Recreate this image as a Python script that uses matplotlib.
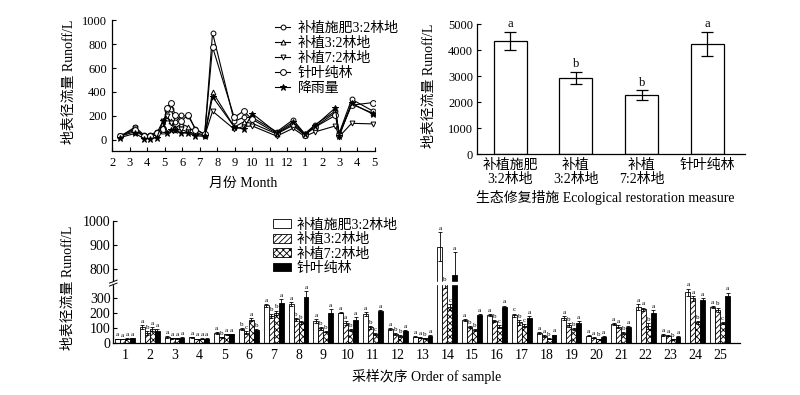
import numpy as np
import matplotlib
matplotlib.use('Agg')
import matplotlib.pyplot as plt

plt.rcParams['font.family'] = ['Liberation Serif', 'Noto Sans CJK SC']
plt.rcParams['hatch.linewidth'] = 0.6
plt.rcParams['axes.linewidth'] = 0.9

# ---- data ----
series_names = ['补植施肥3:2林地', '补植3:2林地', '补植7:2林地', '针叶纯林']
samples = list(range(1, 26))

# runoff per sample (L)
fert32 = [30, 108, 43, 40, 70, 98, 252, 260, 150, 205, 196, 94, 45, 893, 156, 188, 188, 68, 168, 52, 128, 241, 57, 339, 241]
plant32 = [30, 70, 35, 30, 40, 72, 183, 160, 100, 134, 108, 63, 39, 400, 108, 150, 139, 50, 123, 39, 112, 228, 50, 299, 223]
plant72 = [32, 96, 35, 33, 60, 158, 203, 140, 79, 88, 63, 50, 35, 240, 90, 112, 117, 32, 97, 30, 68, 117, 28, 139, 134]
conifer = [35, 83, 37, 33, 60, 90, 270, 310, 205, 158, 212, 85, 50, 775, 188, 241, 172, 55, 134, 45, 108, 205, 45, 290, 312]

err_fert32 = [3, 15, 4, 3, 4, 6, 10, 14, 12, 5, 14, 6, 4, 60, 6, 4, 10, 6, 15, 4, 5, 18, 5, 25, 8]
err_plant32 = [2, 12, 3, 3, 4, 8, 15, 10, 8, 12, 10, 5, 3, 30, 6, 8, 15, 4, 12, 3, 8, 10, 3, 15, 15]
err_plant72 = [2, 10, 3, 2, 4, 10, 15, 8, 6, 8, 5, 4, 3, 20, 5, 10, 10, 3, 8, 3, 5, 20, 3, 10, 8]
err_conifer = [3, 10, 3, 3, 4, 5, 25, 35, 25, 15, 8, 5, 5, 95, 6, 10, 12, 4, 15, 4, 8, 15, 4, 8, 25]

letters = ['aaaa', 'abaa', 'aaaa', 'aaaa', 'abaa', 'bcab', 'abba', 'abba', 'abba', 'aaba',
           'abca', 'abba', 'aaba', 'abca', 'abba', 'abca', 'cbca', 'aaba', 'abba', 'aaba',
           'aaba', 'aaba', 'aaba', 'aaba', 'abca']

# rainfall (same axis)
rain = [20, 55, 12, 10, 20, 160, 60, 85, 80, 60, 55, 35, 30, 360, 110, 90, 220, 60, 150, 50, 120, 268, 30, 305, 215]

# sampling dates, months after February of the first year
sample_month = [0.45, 1.3, 1.8, 2.15, 2.55, 2.9, 3.1, 3.35, 3.6, 3.95, 4.35, 4.75, 5.28, 5.73,
                6.97, 7.5, 8.0, 9.4, 10.33, 11.0, 11.6, 12.75, 12.97, 13.68, 14.9]
month_labels = ['2', '3', '4', '5', '6', '7', '8', '9', '10', '11', '12', '1', '2', '3', '4', '5']

# totals
measure_labels = ['补植施肥\n3:2林地', '补植\n3:2林地', '补植\n7:2林地', '针叶纯林']
total_runoff = [4360, 2940, 2270, 4250]
total_err = [360, 240, 185, 460]
total_letters = ['a', 'b', 'b', 'a']

fig = plt.figure(figsize=(8, 3.95), dpi=100)

# ---- top left: line chart ----
ax1 = fig.add_axes([0.1404, 0.6177, 0.328, 0.3316])
line_series = [fert32, plant32, plant72, conifer, rain]
line_names = series_names + ['降雨量']
markers = ['o', '^', 'v', 'o', '*']
msizes = [3.5, 3.5, 3.5, 4.2, 4.5]
for vals, name, m, ms in zip(line_series, line_names, markers, msizes):
    face = 'black' if m == '*' else 'white'
    ax1.plot(sample_month, vals, color='black', lw=0.8, marker=m, ms=ms,
             mfc=face, mec='black', mew=0.7, label=name)
ax1.set_xlim(0, 15)
ax1.set_ylim(-92, 1000)
ax1.set_yticks(range(0, 1001, 200))
ax1.set_xticks(range(16))
ax1.set_xticklabels(month_labels)
ax1.tick_params(direction='in', length=3, labelsize=9, pad=4)
ax1.spines['top'].set_visible(False)
ax1.spines['right'].set_visible(False)
ax1.set_ylabel('地表径流量 Runoff/L', fontsize=10)
ax1.yaxis.set_label_coords(-0.14, 0.53)
ax1.set_xlabel('月份 Month', fontsize=10)
ax1.xaxis.set_label_coords(0.5, -0.2)
ax1.legend(loc='upper left', bbox_to_anchor=(0.344, 0.945), bbox_transform=fig.transFigure,
           frameon=False, fontsize=10, borderpad=0, handlelength=1.1, handletextpad=0.5,
           labelspacing=0.14, borderaxespad=0)

# ---- top right: totals ----
ax2 = fig.add_axes([0.5966, 0.6094, 0.3345, 0.3291])
xpos = np.arange(len(total_runoff))
ax2.bar(xpos, total_runoff, width=0.5, color='white', edgecolor='black', lw=0.9,
        yerr=total_err, capsize=4, error_kw=dict(elinewidth=0.9, capthick=0.9))
for x, v, e, t in zip(xpos, total_runoff, total_err, total_letters):
    ax2.annotate(t, (x, v + e), xytext=(0, 1), textcoords='offset points',
                 ha='center', va='bottom', fontsize=9)
ax2.set_xlim(-0.5, 3.57)
ax2.set_ylim(0, 5000)
ax2.set_yticks(range(0, 5001, 1000))
ax2.set_xticks(xpos)
ax2.set_xticklabels(measure_labels, fontsize=10, linespacing=1.1)
ax2.tick_params(axis='y', direction='in', length=3, labelsize=9, pad=3)
ax2.tick_params(axis='x', length=0, pad=3)
ax2.spines['top'].set_visible(False)
ax2.spines['right'].set_visible(False)
ax2.set_ylabel('地表径流量 Runoff/L', fontsize=10)
ax2.yaxis.set_label_coords(-0.155, 0.53)
ax2.set_xlabel('生态修复措施 Ecological restoration measure', fontsize=10)
ax2.xaxis.set_label_coords(0.48, -0.275)

# ---- bottom: per-sample bars with broken axis ----
LOW_TOP, HIGH_BOT, K = 400.0, 742.0, 1.6


def fwd(y):
    y = np.asarray(y, dtype=float)
    mid = LOW_TOP + (y - LOW_TOP) * 0.001
    high = LOW_TOP + (HIGH_BOT - LOW_TOP) * 0.001 + (y - HIGH_BOT) * K
    return np.where(y <= LOW_TOP, y, np.where(y < HIGH_BOT, mid, high))


def inv(z):
    z = np.asarray(z, dtype=float)
    zb = LOW_TOP + (HIGH_BOT - LOW_TOP) * 0.001
    mid = LOW_TOP + (z - LOW_TOP) / 0.001
    high = HIGH_BOT + (z - zb) / K
    return np.where(z <= LOW_TOP, z, np.where(z < zb, mid, high))


ax3 = fig.add_axes([0.1416, 0.1304, 0.7834, 0.3109])
ax3.set_yscale('function', functions=(fwd, inv))
xs = np.array(samples)
bw = 0.2
groups = [fert32, plant32, plant72, conifer]
errs = [err_fert32, err_plant32, err_plant72, err_conifer]
faces = ['white', 'white', 'white', 'black']
hatches = [None, '//////', 'xxxxx', None]
for i, (vals, e, fc, h, name) in enumerate(zip(groups, errs, faces, hatches, series_names)):
    xi = xs + (i - 1.5) * bw
    ax3.bar(xi, vals, width=bw, color=fc, edgecolor='black', lw=0.6, hatch=h, label=name)
    ax3.errorbar(xi, vals, yerr=e, fmt='none', ecolor='black', elinewidth=0.6,
                 capsize=1.3, capthick=0.6)
    for x, v, ee, lt in zip(xi, vals, e, letters):
        ax3.annotate(lt[i], (x, v + ee), xytext=(0, 0.8), textcoords='offset points',
                     ha='center', va='bottom', fontsize=5)

# gap of the axis break
ax3.axhspan(393, 746, color='white', zorder=2.6)
yb = fwd(LOW_TOP) / fwd(1000.0)
for dy in (-0.012, 0.012):
    ax3.plot([-0.006, 0.006], [yb + dy - 0.012, yb + dy + 0.012], color='black', lw=0.7,
             transform=ax3.transAxes, clip_on=False, zorder=3)

ax3.set_ylim(0, 1000)
ax3.set_xlim(0.53, 25.8)
ax3.set_yticks([0, 100, 200, 300, 800, 900, 1000])
ax3.set_yticklabels(['0', '100', '200', '300', '800', '900', '1000'])
ax3.yaxis.set_minor_locator(matplotlib.ticker.NullLocator())
ax3.set_xticks(xs)
ax3.tick_params(axis='y', direction='in', length=3, labelsize=10, pad=2)
ax3.tick_params(axis='x', length=0, labelsize=10, pad=4)
ax3.spines['top'].set_visible(False)
ax3.spines['right'].set_visible(False)
ax3.set_ylabel('地表径流量 Runoff/L', fontsize=10)
ax3.yaxis.set_label_coords(-0.062, 0.45)
ax3.set_xlabel('采样次序 Order of sample', fontsize=10)
ax3.xaxis.set_label_coords(0.5, -0.21)
ax3.legend(loc='upper left', bbox_to_anchor=(0.341, 0.447), bbox_transform=fig.transFigure,
           frameon=False, fontsize=10, borderpad=0, handlelength=1.3, handleheight=0.6,
           handletextpad=0.4, labelspacing=0.1, borderaxespad=0)

fig.savefig('out.png', dpi=100)
